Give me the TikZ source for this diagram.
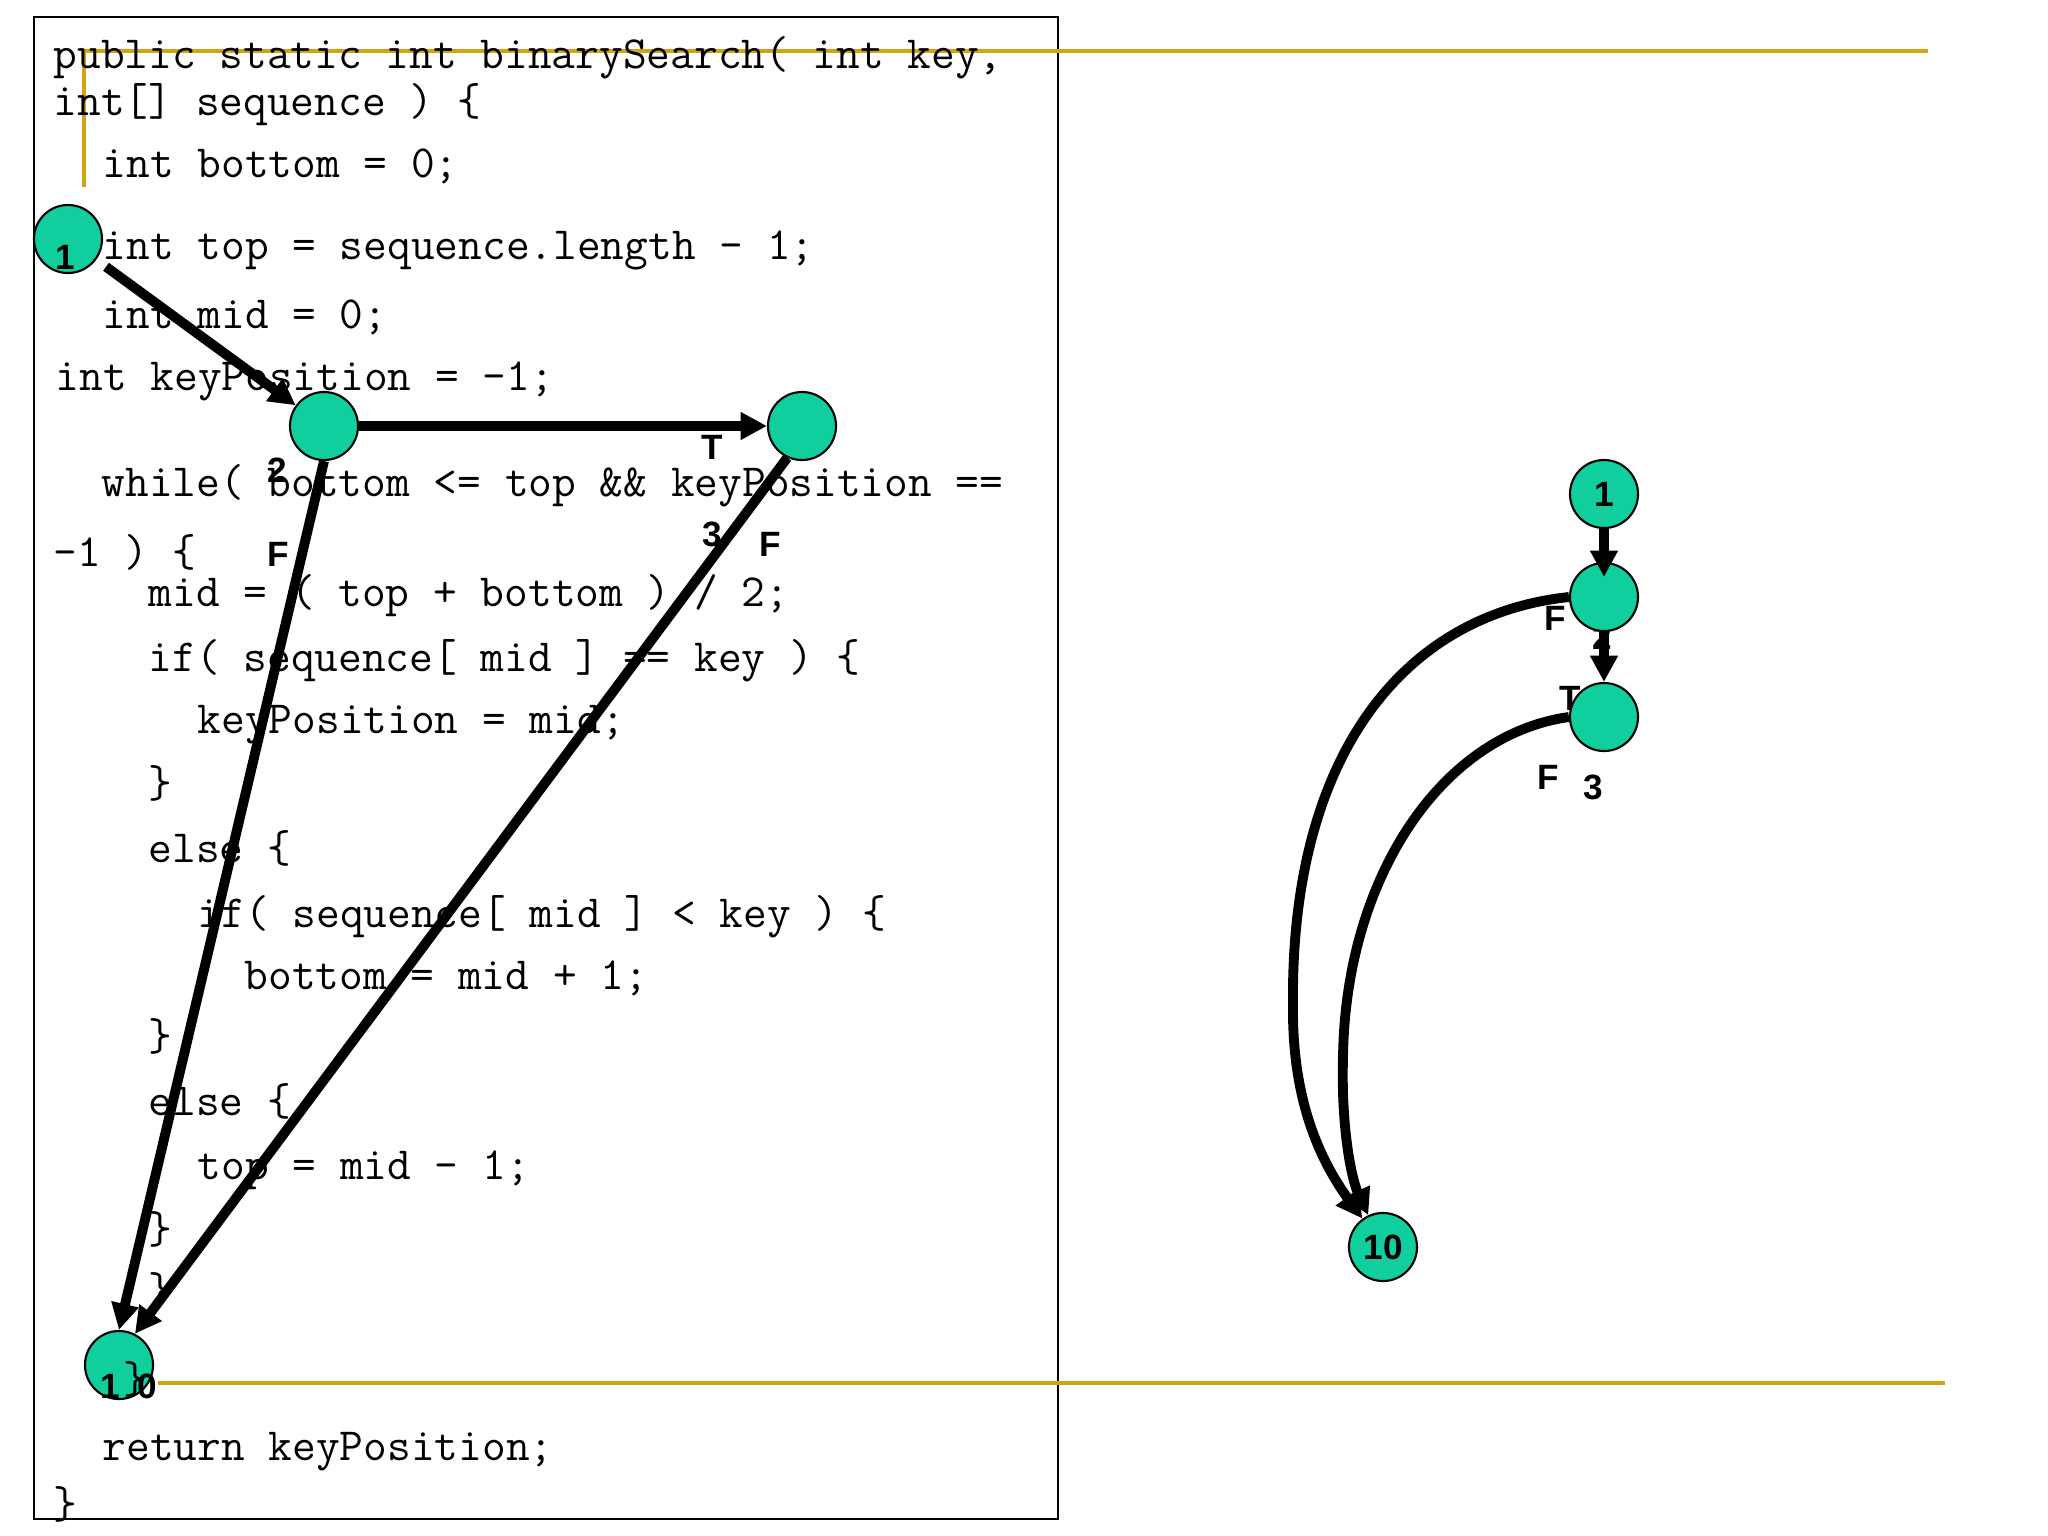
\documentclass[tikz,border=0pt]{standalone}
\usepackage{fontspec}
\newfontfamily\lblfont{Liberation Sans}
\usetikzlibrary{arrows.meta}
\definecolor{nodeteal}{RGB}{16,206,158}
\definecolor{slidegold}{RGB}{210,164,18}
\tikzset{
  >={Triangle[length=7.5pt,width=7.5pt]},
  st/.style={circle,draw,line width=0.6pt,fill=nodeteal,inner sep=0pt,minimum size=0.68cm,font={\lblfont\bfseries\fontsize{10}{11}\selectfont}},
  code/.style={anchor=base west,inner sep=0pt,font={\ttfamily\fontsize{13.1}{15}\selectfont}},
  lbl/.style={inner sep=0pt,font={\lblfont\bfseries\fontsize{10}{11}\selectfont}},
  tr/.style={->,line width=2.8pt},
  gold/.style={slidegold,line width=1.1pt}
}

\begin{document}
\begin{tikzpicture}[x=0.01cm,y=-0.01cm]
    \useasboundingbox (0,0) rectangle (2048,1536);

    % Slide frame and template lines
    \draw[line width=0.6pt] (34,17) rectangle (1058,1519);
    \draw[gold] (1928,51) -- (84,51) -- (84,187);
    \draw[gold] (158,1383) -- (1945,1383);

    % Right graph labels (behind the nodes)
    \node[lbl] (gF2) at (1555,618) {F};
    \node[lbl] (gN2) at (1602,637) {2};
    \node[lbl] (gT3) at (1570,698) {T};
    \node[lbl] (gF3) at (1548,777) {F};
    \node[lbl] (gN3) at (1593,787) {3};

    % Left graph nodes
    \node[st] (c1) at (68,239) {};
    \node[st] (c2) at (324,426) {};
    \node[st] (c3) at (802,426) {};
    \node[st] (c10) at (119,1365) {};

    % Right graph nodes
    \node[st] (g1) at (1604,494) {1};
    \node[st] (g2) at (1604,597) {};
    \node[st] (g3) at (1604,717) {};
    \node[st] (g10) at (1383,1247) {10};

    % Code listing
    \node[code] (line1) at (53,68) {public static int binarySearch( int key,};
    \node[code] (line2) at (53,115) {int[] sequence ) \{};
    \node[code] (line3) at (102,177) {int bottom = 0;};
    \node[code] (line4) at (102,259) {int top = sequence.length - 1;};
    \node[code] (line5) at (102,328) {int mid = 0;};
    \node[code] (line6) at (55,390) {int keyPosition = -1;};
    \node[code] (line7) at (101,496) {while( bottom <= top \&\& keyPosition ==};
    \node[code] (line8) at (53,566) {-1 ) \{};
    \node[code] (line9) at (148,606) {mid = ( top + bottom ) / 2;};
    \node[code] (line10) at (148,671) {if( sequence[ mid ] == key ) \{};
    \node[code] (line11) at (197,733) {keyPosition = mid;};
    \node[code] (line12) at (148,797) {\}};
    \node[code] (line13) at (148,862) {else \{};
    \node[code] (line14) at (197,927) {if( sequence[ mid ] < key ) \{};
    \node[code] (line15) at (244,989) {bottom = mid + 1;};
    \node[code] (line16) at (148,1050) {\}};
    \node[code] (line17) at (148,1115) {else \{};
    \node[code] (line18) at (197,1179) {top = mid - 1;};
    \node[code] (line19) at (148,1243) {\}};
    \node[code] (line20) at (148,1304) {\}};
    \node[code] (line21) at (123,1393) {\}};
    \node[code] (line22) at (102,1460) {return keyPosition;};
    \node[code] (line23) at (53,1518) {\}};

    % Left graph labels
    \node[lbl] (cN1) at (65,257) {1};
    \node[lbl] (cN2) at (277,470) {2};
    \node[lbl] (cF2) at (278,554) {F};
    \node[lbl] (cT3) at (712,447) {T};
    \node[lbl] (cN3) at (712,534) {3};
    \node[lbl] (cF3) at (770,544) {F};
    \node[lbl] (cN10) at (129,1386) {1\hspace{5pt}0};

    % Left graph edges
    \draw[tr, shorten <=0.12cm] (c1) -- (c2);
    \draw[tr] (c2) -- (c3);
    \draw[tr] (c2.south) -- (c10.north);
    \draw[tr] (c3.245) -- (c10.63);

    % Right graph edges
    \draw[tr, shorten >=-0.15cm] (g1) -- (g2);
    \draw[tr] (g2) -- (g3);
    \draw[tr] (g2.west) .. controls (1400,615) and (1290,760) .. (1293,1006)
        .. controls (1292,1100) and (1320,1160) .. (g10);
    \draw[tr] (g3.west) .. controls (1440,735) and (1345,880) .. (1343,1058)
        .. controls (1341,1130) and (1352,1180) .. (g10);
\end{tikzpicture}
\end{document}
